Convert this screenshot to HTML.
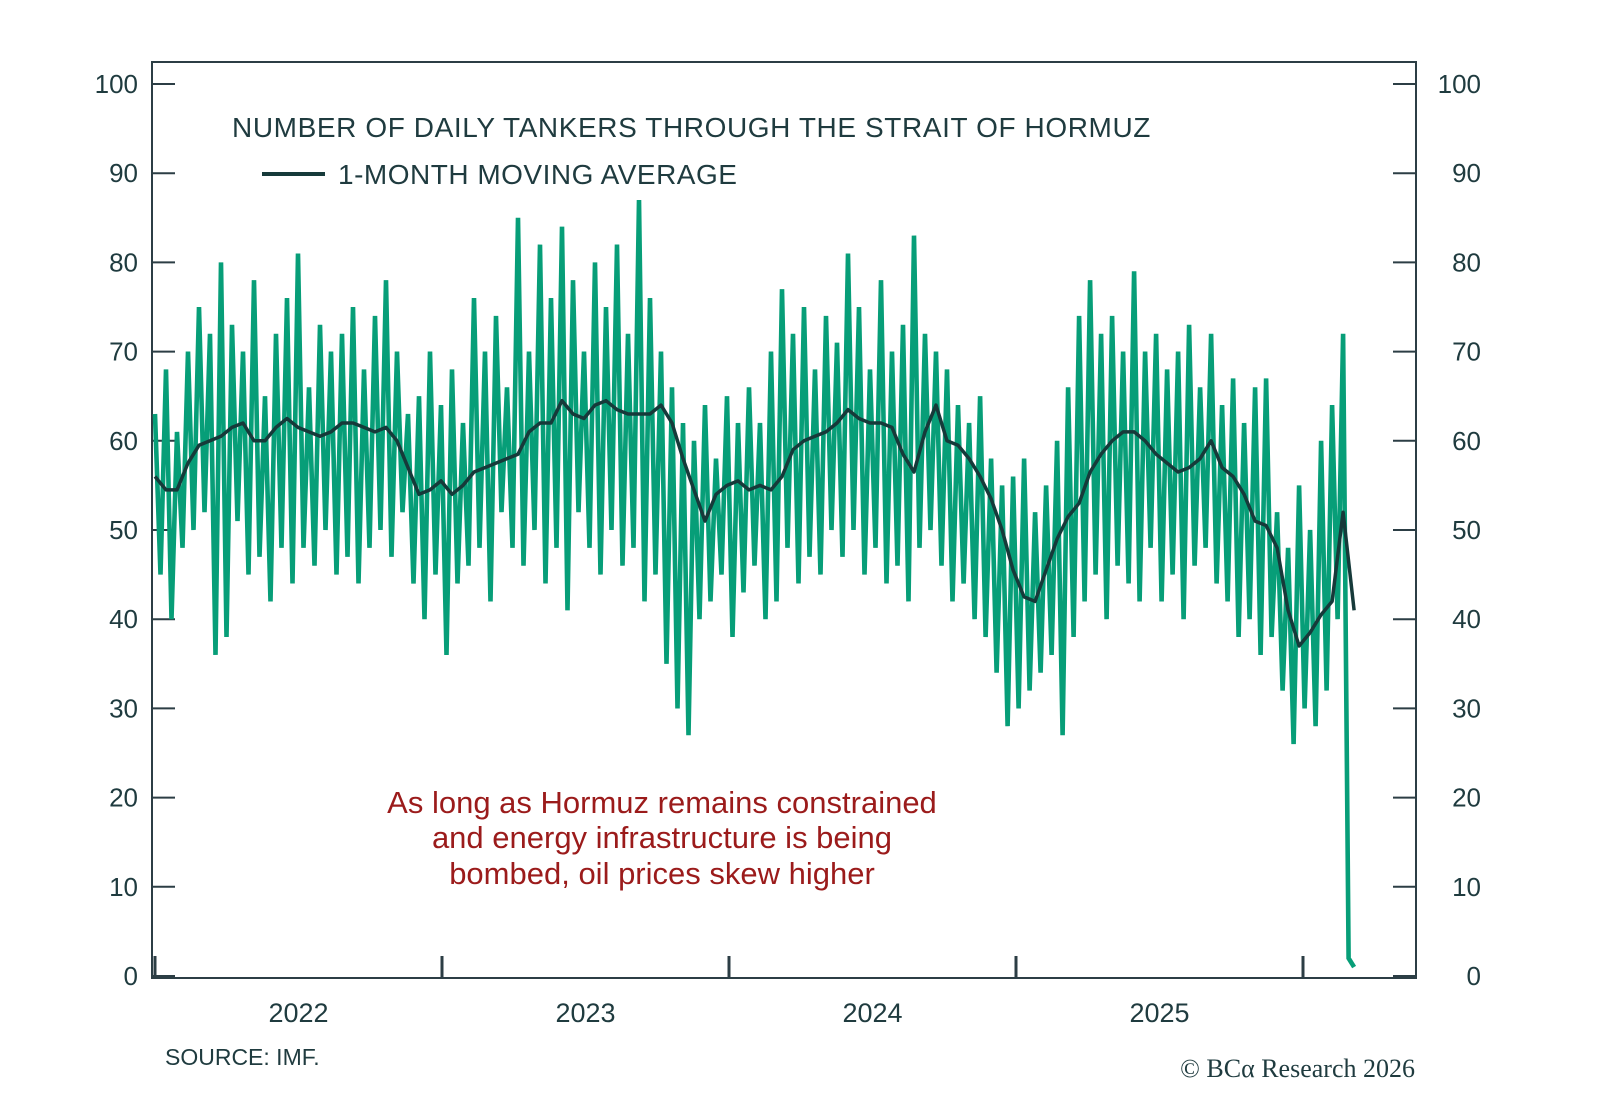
<!DOCTYPE html>
<html><head><meta charset="utf-8">
<style>
body{margin:0;background:#fff;}
svg{display:block;font-family:"Liberation Sans",sans-serif;}
</style></head>
<body>
<svg id="chart" width="1600" height="1107" viewBox="0 0 1600 1107">
<rect x="152" y="62" width="1264" height="916" fill="none" stroke="#2c3e45" stroke-width="2"/>
<g id="axes"></g>
<g id="series"></g>
<text x="232" y="137" font-size="28" fill="#1f3b3f" letter-spacing="0.6">NUMBER OF DAILY TANKERS THROUGH THE STRAIT OF HORMUZ</text>
<line x1="262" y1="174" x2="325" y2="174" stroke="#163a3a" stroke-width="4"/>
<text x="338" y="184" font-size="28" fill="#1f3b3f" letter-spacing="0.5">1-MONTH MOVING AVERAGE</text>
<g font-size="31" fill="#9b1b1b" text-anchor="middle">
<text x="662" y="813">As long as Hormuz remains constrained</text>
<text x="662" y="848">and energy infrastructure is being</text>
<text x="662" y="884">bombed, oil prices skew higher</text>
</g>
<text x="165" y="1065" font-size="23" fill="#1f3b3f">SOURCE: IMF.</text>
<text x="1415" y="1077" font-size="26" fill="#1f3b3f" text-anchor="end" font-family="Liberation Serif, serif">© BCα Research 2026</text>
</svg>
<script>
const yTicks=[0,10,20,30,40,50,60,70,80,90,100];
const years=["2022","2023","2024","2025"];
const yearStarts=[2022,2023,2024,2025,2026];
// raw daily series sampled weekly (week index from Jan 2022)
const rawValues=[63,45,68,40,61,48,70,50,75,52,72,36,80,38,73,51,70,45,78,47,65,42,72,48,76,44,81,48,66,46,73,50,70,45,72,47,75,44,68,48,74,50,78,47,70,52,63,44,65,40,70,45,64,36,68,44,62,46,76,48,70,42,74,52,66,48,85,46,70,50,82,44,76,48,84,41,78,52,70,48,80,45,75,50,82,46,72,48,87,42,76,45,70,35,66,30,62,27,60,40,64,42,58,45,65,38,62,43,66,46,62,40,70,42,77,48,72,44,75,47,68,45,74,50,71,47,81,50,75,45,68,48,78,44,70,46,73,42,83,48,72,50,70,46,68,42,64,44,62,40,65,38,58,34,55,28,56,30,58,32,52,34,55,36,60,27,66,38,74,42,78,45,72,40,74,46,70,44,79,42,70,48,72,42,68,45,70,40,73,46,66,48,72,44,64,42,67,38,62,40,66,36,67,38,52,32,48,26,55,30,50,28,60,32,64,40,72,2,1];
// 1-month moving average sampled every 2 weeks
const maValues=[56,54.5,54.5,57.5,59.5,60,60.5,61.5,62,60,60,61.5,62.5,61.5,61,60.5,61,62,62,61.5,61,61.5,60,57,54,54.5,55.5,54,55,56.5,57,57.5,58,58.5,61,62,62,64.5,63,62.5,64,64.5,63.5,63,63,63,64,62,58,54.5,51,54,55,55.5,54.5,55,54.5,56,59,60,60.5,61,62,63.5,62.5,62,62,61.5,58.5,56.5,61,64,60,59.5,58,56,53.5,50,45.5,42.5,42,45.5,49,51.5,53,56.5,58.5,60,61,61,60,58.5,57.5,56.5,57,58,60,57,56,54,51,50.5,48,41,37,38.5,40.5,42,52,41];

const NS="http://www.w3.org/2000/svg";
const X0=155,PXY=287;
const yS=v=>976-v*8.92;
const xYear=t=>X0+(t-2022)*PXY;
const xWeek=w=>xYear(2022+w*7/365.25);
const axes=document.getElementById('axes');
const series=document.getElementById('series');
function mk(tag,attrs,parent){const e=document.createElementNS(NS,tag);for(const k in attrs)e.setAttribute(k,attrs[k]);parent.appendChild(e);return e;}

yTicks.forEach(v=>{
  const y=yS(v);
  const tl=mk('line',{x1:152,x2:175,y1:y,y2:y,stroke:'#2c3e45','stroke-width':2},axes);
  
  
  const tr=mk('line',{x1:1393,x2:1416,y1:y,y2:y,stroke:'#2c3e45','stroke-width':2},axes);
  
  
  const a=mk('text',{x:138,y:y+9,'font-size':26,fill:'#1f3b3f','text-anchor':'end'},axes);
  a.textContent=v;
  
  
  const b=mk('text',{x:1481,y:y+9,'font-size':26,fill:'#1f3b3f','text-anchor':'end'},axes);
  b.textContent=v;
  
  
});
yearStarts.forEach(t=>{
  const x=xYear(t);
  const l=mk('line',{x1:x,x2:x,y1:978,y2:956,stroke:'#2c3e45','stroke-width':3},axes);
  
  
});
years.forEach((s,i)=>{
  const x=(xYear(yearStarts[i])+xYear(yearStarts[i]+1))/2;
  const t=mk('text',{x:x,y:1022,'font-size':27,fill:'#1f3b3f','text-anchor':'middle'},axes);
  t.textContent=s;
  
  
});

let d=rawValues.map((v,i)=>(i?'L':'M')+xWeek(i).toFixed(1)+','+yS(v).toFixed(1)).join('');
const raw=mk('path',{d:d,fill:'none',stroke:'#079e78','stroke-width':4.6,'stroke-linejoin':'miter','stroke-miterlimit':20},series);



let d2=maValues.map((v,i)=>(i?'L':'M')+xWeek(i*2).toFixed(1)+','+yS(v).toFixed(1)).join('');
const ma=mk('path',{d:d2,fill:'none',stroke:'#163a3a','stroke-width':3.5,'stroke-linejoin':'round'},series);


</script>
</body></html>
